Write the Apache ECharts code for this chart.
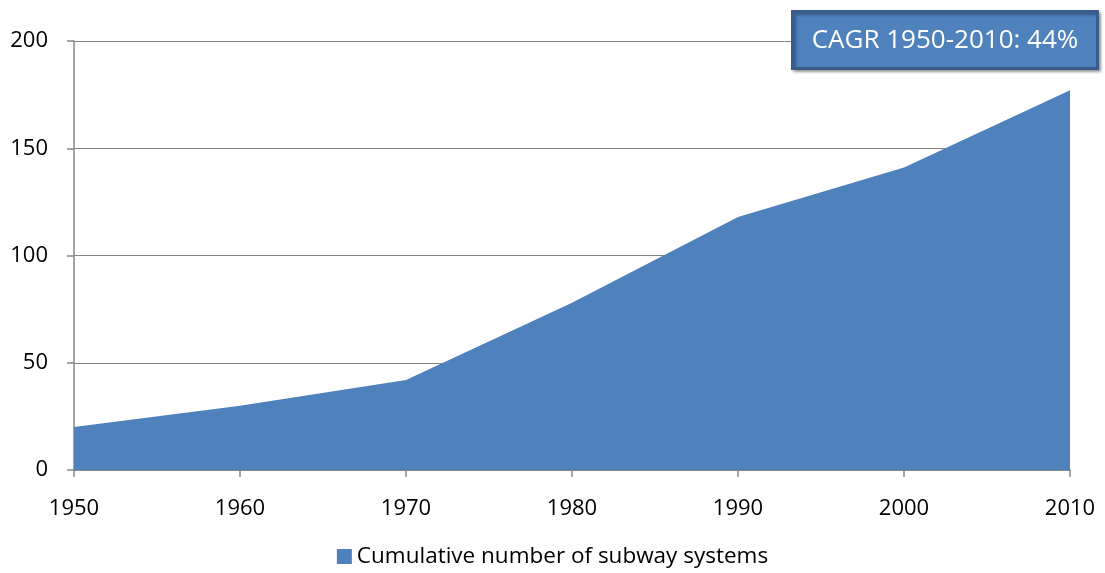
<!DOCTYPE html>
<html><head><meta charset="utf-8">
<script src="https://cdn.jsdelivr.net/npm/echarts@6/dist/echarts.min.js"></script>
<style>html,body{margin:0;padding:0;background:#fff}#c{width:1105px;height:573px}</style>
</head><body><div id="c"></div>
<script>
const categories = ['1950','1960','1970','1980','1990','2000','2010'];
const seriesName = 'Cumulative number of subway systems';
const values = [20, 30, 42, 78, 118, 141, 177];
const yTicks = [0, 50, 100, 150, 200];
const annotation = 'CAGR 1950-2010: 44%';

const font = '"Open Sans", "Noto Sans", sans-serif';
const chart = echarts.init(document.getElementById('c'));
chart.setOption({
  animation: false,
  grid: {left: 74, right: 35, top: 41, bottom: 103},
  xAxis: {
    type: 'category', data: categories, boundaryGap: false,
    axisLine: {lineStyle: {color: '#868686', width: 1.5}},
    axisTick: {show: true, alignWithLabel: true, length: 7, lineStyle: {color: '#868686', width: 1.5}},
    axisLabel: {color: '#000', fontSize: 22, fontFamily: font, margin: 28}
  },
  yAxis: {
    type: 'value', min: yTicks[0], max: yTicks[yTicks.length-1], interval: 50,
    axisLine: {show: true, lineStyle: {color: '#868686', width: 1.5}},
    axisTick: {show: true, length: 7, lineStyle: {color: '#868686', width: 1.5}},
    splitLine: {lineStyle: {color: '#868686', width: 1.2}},
    axisLabel: {color: '#000', fontSize: 22, fontFamily: font, margin: 26}
  },
  legend: {
    bottom: 0, left: 'center', itemWidth: 15, itemHeight: 15, itemGap: 5,
    textStyle: {color: '#000', fontSize: 22.5, fontFamily: font},
    data: [{name: seriesName, icon: 'rect'}]
  },
  series: [{
    name: seriesName, type: 'line', data: values,
    symbol: 'none', lineStyle: {width: 0, color: '#4f81bd'},
    itemStyle: {color: '#4f81bd'},
    areaStyle: {color: '#4f81bd', opacity: 1}
  }],
  graphic: [{
    type: 'group', left: 791, top: 10, z: 100,
    children: [
      {type: 'rect', z: 100, shape: {x: 0, y: 0, width: 305, height: 57},
       style: {fill: '#4f81bd', stroke: '#385d8a', lineWidth: 3,
               shadowBlur: 3, shadowOffsetX: 2, shadowOffsetY: 2, shadowColor: 'rgba(0,0,0,0.35)'}},
      {type: 'text', z: 101, x: 152.5, y: 29,
       style: {text: annotation, fill: '#fff', fontSize: 26, fontFamily: font, align: 'center', verticalAlign: 'middle'}}
    ]
  }]
});
</script></body></html>
